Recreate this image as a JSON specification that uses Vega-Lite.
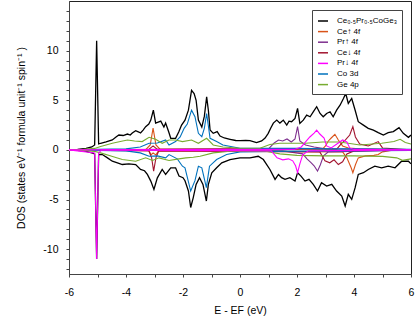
{
  "$schema": "https://vega.github.io/schema/vega-lite/v6.json",
  "width": 342,
  "height": 273,
  "autosize": "none",
  "padding": {"left": 69, "top": 1, "right": 4, "bottom": 50},
  "config": {
    "font": "Liberation Sans",
    "view": {"stroke": "#222", "strokeWidth": 1},
    "axis": {"grid": false, "domainColor": "#444", "tickColor": "#444", "tickSize": 3, "labelColor": "#000", "labelFontSize": 10.5, "titleColor": "#000", "titleFontWeight": "normal", "titleFontSize": 10.5, "labelFont": "Liberation Sans", "titleFont": "Liberation Sans"},
    "legend": {"orient": "top-right", "offset": 9, "strokeColor": "#444", "fillColor": "white", "padding": 5, "labelFontSize": 8, "labelFont": "Liberation Sans", "symbolType": "stroke", "symbolSize": 100, "symbolStrokeWidth": 1.5, "rowPadding": 0.6, "labelOffset": 8, "title": null}
  },
  "datasets": {
    "dos": [
      {"s":"T","p":"u","E":-6,"y":0},{"s":"T","p":"u","E":-5.7,"y":0.05},{"s":"T","p":"u","E":-5.4,"y":0.15},{"s":"T","p":"u","E":-5.2,"y":0.3},{"s":"T","p":"u","E":-5.1,"y":0.5},{"s":"T","p":"u","E":-5.03,"y":11.0},{"s":"T","p":"u","E":-4.96,"y":0.6},{"s":"T","p":"u","E":-4.89,"y":0.67},{"s":"T","p":"u","E":-4.7,"y":0.8},{"s":"T","p":"u","E":-4.48,"y":1.0},{"s":"T","p":"u","E":-4.35,"y":1.3},{"s":"T","p":"u","E":-4.25,"y":1.5},{"s":"T","p":"u","E":-4.1,"y":1.45},{"s":"T","p":"u","E":-3.95,"y":1.6},{"s":"T","p":"u","E":-3.85,"y":1.5},{"s":"T","p":"u","E":-3.78,"y":1.7},{"s":"T","p":"u","E":-3.66,"y":1.94},{"s":"T","p":"u","E":-3.55,"y":1.8},{"s":"T","p":"u","E":-3.49,"y":1.7},{"s":"T","p":"u","E":-3.4,"y":2.0},{"s":"T","p":"u","E":-3.31,"y":2.34},{"s":"T","p":"u","E":-3.2,"y":2.6},{"s":"T","p":"u","E":-3.13,"y":3.0},{"s":"T","p":"u","E":-3.04,"y":4.0},{"s":"T","p":"u","E":-2.96,"y":2.7},{"s":"T","p":"u","E":-2.87,"y":2.8},{"s":"T","p":"u","E":-2.78,"y":2.9},{"s":"T","p":"u","E":-2.67,"y":2.3},{"s":"T","p":"u","E":-2.61,"y":2.7},{"s":"T","p":"u","E":-2.5,"y":1.8},{"s":"T","p":"u","E":-2.43,"y":1.17},{"s":"T","p":"u","E":-2.26,"y":1.17},{"s":"T","p":"u","E":-2.15,"y":1.8},{"s":"T","p":"u","E":-2.05,"y":2.5},{"s":"T","p":"u","E":-1.93,"y":3.0},{"s":"T","p":"u","E":-1.81,"y":4.0},{"s":"T","p":"u","E":-1.7,"y":6.0},{"s":"T","p":"u","E":-1.61,"y":5.67},{"s":"T","p":"u","E":-1.54,"y":5.0},{"s":"T","p":"u","E":-1.46,"y":3.0},{"s":"T","p":"u","E":-1.34,"y":2.3},{"s":"T","p":"u","E":-1.25,"y":3.4},{"s":"T","p":"u","E":-1.17,"y":5.35},{"s":"T","p":"u","E":-1.11,"y":4.0},{"s":"T","p":"u","E":-1.05,"y":2.0},{"s":"T","p":"u","E":-0.94,"y":1.67},{"s":"T","p":"u","E":-0.8,"y":1.84},{"s":"T","p":"u","E":-0.7,"y":1.4},{"s":"T","p":"u","E":-0.55,"y":1.2},{"s":"T","p":"u","E":-0.35,"y":1.07},{"s":"T","p":"u","E":-0.15,"y":0.95},{"s":"T","p":"u","E":0,"y":0.94},{"s":"T","p":"u","E":0.2,"y":0.95},{"s":"T","p":"u","E":0.35,"y":0.94},{"s":"T","p":"u","E":0.58,"y":0.74},{"s":"T","p":"u","E":0.76,"y":0.9},{"s":"T","p":"u","E":0.88,"y":1.2},{"s":"T","p":"u","E":0.99,"y":1.67},{"s":"T","p":"u","E":1.08,"y":2.2},{"s":"T","p":"u","E":1.17,"y":2.7},{"s":"T","p":"u","E":1.29,"y":3.0},{"s":"T","p":"u","E":1.4,"y":2.7},{"s":"T","p":"u","E":1.52,"y":3.0},{"s":"T","p":"u","E":1.64,"y":2.5},{"s":"T","p":"u","E":1.72,"y":2.9},{"s":"T","p":"u","E":1.81,"y":2.84},{"s":"T","p":"u","E":1.93,"y":3.17},{"s":"T","p":"u","E":2.02,"y":4.18},{"s":"T","p":"u","E":2.1,"y":2.67},{"s":"T","p":"u","E":2.22,"y":3.0},{"s":"T","p":"u","E":2.34,"y":3.5},{"s":"T","p":"u","E":2.46,"y":3.34},{"s":"T","p":"u","E":2.57,"y":3.84},{"s":"T","p":"u","E":2.69,"y":4.35},{"s":"T","p":"u","E":2.81,"y":3.67},{"s":"T","p":"u","E":2.92,"y":3.34},{"s":"T","p":"u","E":3.04,"y":3.67},{"s":"T","p":"u","E":3.16,"y":3.84},{"s":"T","p":"u","E":3.27,"y":3.34},{"s":"T","p":"u","E":3.39,"y":4.0},{"s":"T","p":"u","E":3.51,"y":4.5},{"s":"T","p":"u","E":3.63,"y":5.18},{"s":"T","p":"u","E":3.71,"y":5.68},{"s":"T","p":"u","E":3.8,"y":4.68},{"s":"T","p":"u","E":3.92,"y":5.18},{"s":"T","p":"u","E":4.04,"y":4.0},{"s":"T","p":"u","E":4.15,"y":2.84},{"s":"T","p":"u","E":4.33,"y":2.5},{"s":"T","p":"u","E":4.5,"y":2.17},{"s":"T","p":"u","E":4.68,"y":2.0},{"s":"T","p":"u","E":4.85,"y":1.74},{"s":"T","p":"u","E":5.03,"y":1.5},{"s":"T","p":"u","E":5.2,"y":1.74},{"s":"T","p":"u","E":5.38,"y":1.84},{"s":"T","p":"u","E":5.58,"y":2.24},{"s":"T","p":"u","E":5.73,"y":1.67},{"s":"T","p":"u","E":5.91,"y":1.27},{"s":"T","p":"u","E":6,"y":1.5},
      {"s":"T","p":"d","E":-6,"y":0},{"s":"T","p":"d","E":-5.7,"y":-0.05},{"s":"T","p":"d","E":-5.4,"y":-0.15},{"s":"T","p":"d","E":-5.2,"y":-0.3},{"s":"T","p":"d","E":-5.1,"y":-0.4},{"s":"T","p":"d","E":-5.03,"y":-11.0},{"s":"T","p":"d","E":-4.96,"y":-0.45},{"s":"T","p":"d","E":-4.83,"y":-0.47},{"s":"T","p":"d","E":-4.65,"y":-0.8},{"s":"T","p":"d","E":-4.48,"y":-1.14},{"s":"T","p":"d","E":-4.3,"y":-1.3},{"s":"T","p":"d","E":-4.13,"y":-1.47},{"s":"T","p":"d","E":-3.9,"y":-1.4},{"s":"T","p":"d","E":-3.66,"y":-1.47},{"s":"T","p":"d","E":-3.49,"y":-1.97},{"s":"T","p":"d","E":-3.35,"y":-2.1},{"s":"T","p":"d","E":-3.25,"y":-2.47},{"s":"T","p":"d","E":-3.13,"y":-3.14},{"s":"T","p":"d","E":-3.02,"y":-3.98},{"s":"T","p":"d","E":-2.9,"y":-2.81},{"s":"T","p":"d","E":-2.73,"y":-1.97},{"s":"T","p":"d","E":-2.61,"y":-2.47},{"s":"T","p":"d","E":-2.43,"y":-1.8},{"s":"T","p":"d","E":-2.26,"y":-1.8},{"s":"T","p":"d","E":-2.14,"y":-2.64},{"s":"T","p":"d","E":-2.0,"y":-2.8},{"s":"T","p":"d","E":-1.93,"y":-3.1},{"s":"T","p":"d","E":-1.81,"y":-4.14},{"s":"T","p":"d","E":-1.73,"y":-5.8},{"s":"T","p":"d","E":-1.64,"y":-4.8},{"s":"T","p":"d","E":-1.54,"y":-3.47},{"s":"T","p":"d","E":-1.42,"y":-2.8},{"s":"T","p":"d","E":-1.3,"y":-3.47},{"s":"T","p":"d","E":-1.18,"y":-5.15},{"s":"T","p":"d","E":-1.11,"y":-3.47},{"s":"T","p":"d","E":-0.99,"y":-2.3},{"s":"T","p":"d","E":-0.82,"y":-1.8},{"s":"T","p":"d","E":-0.64,"y":-1.3},{"s":"T","p":"d","E":-0.35,"y":-0.97},{"s":"T","p":"d","E":0,"y":-0.8},{"s":"T","p":"d","E":0.35,"y":-0.8},{"s":"T","p":"d","E":0.64,"y":-0.64},{"s":"T","p":"d","E":0.82,"y":-0.97},{"s":"T","p":"d","E":1.05,"y":-1.97},{"s":"T","p":"d","E":1.23,"y":-2.97},{"s":"T","p":"d","E":1.35,"y":-2.47},{"s":"T","p":"d","E":1.46,"y":-2.8},{"s":"T","p":"d","E":1.58,"y":-2.97},{"s":"T","p":"d","E":1.75,"y":-2.8},{"s":"T","p":"d","E":1.93,"y":-3.14},{"s":"T","p":"d","E":2.02,"y":-2.3},{"s":"T","p":"d","E":2.14,"y":-2.64},{"s":"T","p":"d","E":2.28,"y":-3.14},{"s":"T","p":"d","E":2.42,"y":-2.97},{"s":"T","p":"d","E":2.57,"y":-3.47},{"s":"T","p":"d","E":2.72,"y":-4.14},{"s":"T","p":"d","E":2.86,"y":-3.3},{"s":"T","p":"d","E":3.04,"y":-3.64},{"s":"T","p":"d","E":3.22,"y":-3.47},{"s":"T","p":"d","E":3.39,"y":-4.14},{"s":"T","p":"d","E":3.57,"y":-4.65},{"s":"T","p":"d","E":3.69,"y":-5.65},{"s":"T","p":"d","E":3.8,"y":-4.48},{"s":"T","p":"d","E":3.92,"y":-4.98},{"s":"T","p":"d","E":4.04,"y":-3.8},{"s":"T","p":"d","E":4.15,"y":-2.47},{"s":"T","p":"d","E":4.33,"y":-2.3},{"s":"T","p":"d","E":4.5,"y":-1.97},{"s":"T","p":"d","E":4.73,"y":-1.64},{"s":"T","p":"d","E":4.97,"y":-1.8},{"s":"T","p":"d","E":5.2,"y":-1.64},{"s":"T","p":"d","E":5.44,"y":-1.8},{"s":"T","p":"d","E":5.67,"y":-1.14},{"s":"T","p":"d","E":5.91,"y":-1.14},{"s":"T","p":"d","E":6,"y":-1.4},
      {"s":"O","p":"u","E":-6,"y":0},{"s":"O","p":"u","E":-3.3,"y":0.05},{"s":"O","p":"u","E":-3.15,"y":0.5},{"s":"O","p":"u","E":-3.05,"y":2.2},{"s":"O","p":"u","E":-2.95,"y":0.5},{"s":"O","p":"u","E":-2.8,"y":0.05},{"s":"O","p":"u","E":2.9,"y":0.1},{"s":"O","p":"u","E":3.0,"y":0.4},{"s":"O","p":"u","E":3.1,"y":0.9},{"s":"O","p":"u","E":3.2,"y":1.2},{"s":"O","p":"u","E":3.33,"y":1.57},{"s":"O","p":"u","E":3.45,"y":1.0},{"s":"O","p":"u","E":3.6,"y":0.4},{"s":"O","p":"u","E":3.8,"y":0.2},{"s":"O","p":"u","E":4.2,"y":0.1},{"s":"O","p":"u","E":6,"y":0},
      {"s":"O","p":"d","E":-6,"y":0},{"s":"O","p":"d","E":-3.2,"y":-0.05},{"s":"O","p":"d","E":-3.12,"y":-0.5},{"s":"O","p":"d","E":-3.05,"y":-0.3},{"s":"O","p":"d","E":-2.95,"y":-0.5},{"s":"O","p":"d","E":-2.85,"y":-0.05},{"s":"O","p":"d","E":3.6,"y":-0.2},{"s":"O","p":"d","E":3.75,"y":-0.8},{"s":"O","p":"d","E":3.9,"y":-1.8},{"s":"O","p":"d","E":3.96,"y":-2.3},{"s":"O","p":"d","E":4.05,"y":-1.5},{"s":"O","p":"d","E":4.15,"y":-0.8},{"s":"O","p":"d","E":4.4,"y":-0.6},{"s":"O","p":"d","E":4.7,"y":-0.55},{"s":"O","p":"d","E":4.85,"y":-0.47},{"s":"O","p":"d","E":5.0,"y":-0.2},{"s":"O","p":"d","E":5.3,"y":-0.05},{"s":"O","p":"d","E":6,"y":0},
      {"s":"P","p":"u","E":-6,"y":0},{"s":"P","p":"u","E":1.0,"y":0.1},{"s":"P","p":"u","E":1.2,"y":0.7},{"s":"P","p":"u","E":1.35,"y":1.0},{"s":"P","p":"u","E":1.5,"y":0.9},{"s":"P","p":"u","E":1.65,"y":1.1},{"s":"P","p":"u","E":1.8,"y":0.8},{"s":"P","p":"u","E":1.93,"y":1.1},{"s":"P","p":"u","E":2.02,"y":2.34},{"s":"P","p":"u","E":2.1,"y":0.9},{"s":"P","p":"u","E":2.3,"y":0.5},{"s":"P","p":"u","E":2.6,"y":0.3},{"s":"P","p":"u","E":3.0,"y":0.1},{"s":"P","p":"u","E":6,"y":0},
      {"s":"P","p":"d","E":-6,"y":0},{"s":"P","p":"d","E":1.5,"y":-0.1},{"s":"P","p":"d","E":2.2,"y":-0.4},{"s":"P","p":"d","E":2.35,"y":-0.9},{"s":"P","p":"d","E":2.5,"y":-1.3},{"s":"P","p":"d","E":2.6,"y":-1.6},{"s":"P","p":"d","E":2.72,"y":-2.14},{"s":"P","p":"d","E":2.82,"y":-1.5},{"s":"P","p":"d","E":2.93,"y":-0.6},{"s":"P","p":"d","E":3.1,"y":-0.2},{"s":"P","p":"d","E":6,"y":0},
      {"s":"R","p":"u","E":-6,"y":0},{"s":"R","p":"u","E":-3.2,"y":0.05},{"s":"R","p":"u","E":-3.05,"y":0.4},{"s":"R","p":"u","E":-2.9,"y":0.05},{"s":"R","p":"u","E":3.4,"y":0.1},{"s":"R","p":"u","E":3.55,"y":0.6},{"s":"R","p":"u","E":3.7,"y":1.0},{"s":"R","p":"u","E":3.85,"y":1.5},{"s":"R","p":"u","E":3.96,"y":2.34},{"s":"R","p":"u","E":4.05,"y":1.3},{"s":"R","p":"u","E":4.2,"y":0.6},{"s":"R","p":"u","E":4.5,"y":0.4},{"s":"R","p":"u","E":4.85,"y":0.84},{"s":"R","p":"u","E":5.0,"y":0.2},{"s":"R","p":"u","E":6,"y":0},
      {"s":"R","p":"d","E":-6,"y":0},{"s":"R","p":"d","E":-3.2,"y":-0.1},{"s":"R","p":"d","E":-3.1,"y":-0.8},{"s":"R","p":"d","E":-3.03,"y":-2.14},{"s":"R","p":"d","E":-2.95,"y":-0.8},{"s":"R","p":"d","E":-2.85,"y":-0.1},{"s":"R","p":"d","E":2.8,"y":-0.2},{"s":"R","p":"d","E":2.98,"y":-1.1},{"s":"R","p":"d","E":3.15,"y":-1.3},{"s":"R","p":"d","E":3.3,"y":-1.0},{"s":"R","p":"d","E":3.45,"y":-1.47},{"s":"R","p":"d","E":3.6,"y":-1.2},{"s":"R","p":"d","E":3.75,"y":-0.4},{"s":"R","p":"d","E":4.0,"y":-0.1},{"s":"R","p":"d","E":6,"y":0},
      {"s":"C","p":"u","E":-6,"y":0},{"s":"C","p":"u","E":-4,"y":0.1},{"s":"C","p":"u","E":-3.5,"y":0.3},{"s":"C","p":"u","E":-3.19,"y":0.67},{"s":"C","p":"u","E":-2.9,"y":0.7},{"s":"C","p":"u","E":-2.61,"y":1.0},{"s":"C","p":"u","E":-2.49,"y":0.5},{"s":"C","p":"u","E":-2.26,"y":0.84},{"s":"C","p":"u","E":-2.1,"y":1.3},{"s":"C","p":"u","E":-1.96,"y":2.17},{"s":"C","p":"u","E":-1.85,"y":2.6},{"s":"C","p":"u","E":-1.7,"y":4.0},{"s":"C","p":"u","E":-1.58,"y":3.34},{"s":"C","p":"u","E":-1.46,"y":1.67},{"s":"C","p":"u","E":-1.34,"y":1.34},{"s":"C","p":"u","E":-1.25,"y":2.2},{"s":"C","p":"u","E":-1.17,"y":3.67},{"s":"C","p":"u","E":-1.05,"y":1.17},{"s":"C","p":"u","E":-0.82,"y":0.84},{"s":"C","p":"u","E":-0.6,"y":0.5},{"s":"C","p":"u","E":0,"y":0.17},{"s":"C","p":"u","E":1,"y":0.15},{"s":"C","p":"u","E":2,"y":0.15},{"s":"C","p":"u","E":3,"y":0.1},{"s":"C","p":"u","E":4,"y":0.1},{"s":"C","p":"u","E":6,"y":0.05},
      {"s":"C","p":"d","E":-6,"y":0},{"s":"C","p":"d","E":-4,"y":-0.1},{"s":"C","p":"d","E":-3.5,"y":-0.3},{"s":"C","p":"d","E":-3.19,"y":-0.64},{"s":"C","p":"d","E":-2.9,"y":-0.6},{"s":"C","p":"d","E":-2.61,"y":-0.8},{"s":"C","p":"d","E":-2.49,"y":-0.47},{"s":"C","p":"d","E":-2.2,"y":-0.9},{"s":"C","p":"d","E":-2.02,"y":-1.64},{"s":"C","p":"d","E":-1.93,"y":-1.8},{"s":"C","p":"d","E":-1.73,"y":-4.14},{"s":"C","p":"d","E":-1.58,"y":-3.1},{"s":"C","p":"d","E":-1.46,"y":-1.64},{"s":"C","p":"d","E":-1.34,"y":-1.8},{"s":"C","p":"d","E":-1.18,"y":-3.8},{"s":"C","p":"d","E":-1.07,"y":-1.64},{"s":"C","p":"d","E":-0.82,"y":-0.97},{"s":"C","p":"d","E":-0.47,"y":-0.47},{"s":"C","p":"d","E":0,"y":-0.2},{"s":"C","p":"d","E":1,"y":-0.15},{"s":"C","p":"d","E":6,"y":-0.05},
      {"s":"G","p":"u","E":-6,"y":0},{"s":"G","p":"u","E":-5.5,"y":0.05},{"s":"G","p":"u","E":-5.1,"y":0.15},{"s":"G","p":"u","E":-4.89,"y":0.34},{"s":"G","p":"u","E":-4.48,"y":0.67},{"s":"G","p":"u","E":-4.2,"y":0.85},{"s":"G","p":"u","E":-3.95,"y":1.0},{"s":"G","p":"u","E":-3.7,"y":0.9},{"s":"G","p":"u","E":-3.43,"y":0.84},{"s":"G","p":"u","E":-3.19,"y":1.27},{"s":"G","p":"u","E":-2.96,"y":1.07},{"s":"G","p":"u","E":-2.73,"y":0.67},{"s":"G","p":"u","E":-2.49,"y":1.0},{"s":"G","p":"u","E":-2.26,"y":1.0},{"s":"G","p":"u","E":-2.02,"y":0.84},{"s":"G","p":"u","E":-1.7,"y":1.0},{"s":"G","p":"u","E":-1.46,"y":0.67},{"s":"G","p":"u","E":-1.17,"y":1.17},{"s":"G","p":"u","E":-0.94,"y":0.5},{"s":"G","p":"u","E":-0.6,"y":0.3},{"s":"G","p":"u","E":-0.35,"y":0.24},{"s":"G","p":"u","E":0,"y":0.17},{"s":"G","p":"u","E":0.7,"y":0.17},{"s":"G","p":"u","E":1.05,"y":0.54},{"s":"G","p":"u","E":1.4,"y":0.67},{"s":"G","p":"u","E":1.87,"y":0.67},{"s":"G","p":"u","E":2.3,"y":0.67},{"s":"G","p":"u","E":2.9,"y":0.8},{"s":"G","p":"u","E":3.5,"y":0.8},{"s":"G","p":"u","E":4.21,"y":0.5},{"s":"G","p":"u","E":4.97,"y":0.67},{"s":"G","p":"u","E":5.4,"y":0.85},{"s":"G","p":"u","E":5.62,"y":1.07},{"s":"G","p":"u","E":5.8,"y":0.75},{"s":"G","p":"u","E":6,"y":0.6},
      {"s":"G","p":"d","E":-6,"y":0},{"s":"G","p":"d","E":-5.5,"y":-0.05},{"s":"G","p":"d","E":-5.1,"y":-0.15},{"s":"G","p":"d","E":-4.89,"y":-0.3},{"s":"G","p":"d","E":-4.5,"y":-0.64},{"s":"G","p":"d","E":-4.13,"y":-0.97},{"s":"G","p":"d","E":-3.66,"y":-1.14},{"s":"G","p":"d","E":-3.31,"y":-0.8},{"s":"G","p":"d","E":-3.07,"y":-1.07},{"s":"G","p":"d","E":-2.84,"y":-0.8},{"s":"G","p":"d","E":-2.49,"y":-1.07},{"s":"G","p":"d","E":-2.14,"y":-0.9},{"s":"G","p":"d","E":-1.9,"y":-0.8},{"s":"G","p":"d","E":-1.64,"y":-0.74},{"s":"G","p":"d","E":-1.4,"y":-0.64},{"s":"G","p":"d","E":-0.94,"y":-0.3},{"s":"G","p":"d","E":-0.35,"y":-0.14},{"s":"G","p":"d","E":0.9,"y":-0.14},{"s":"G","p":"d","E":1.4,"y":-0.4},{"s":"G","p":"d","E":2.0,"y":-0.55},{"s":"G","p":"d","E":3.0,"y":-0.6},{"s":"G","p":"d","E":4.0,"y":-0.6},{"s":"G","p":"d","E":5.0,"y":-0.65},{"s":"G","p":"d","E":5.5,"y":-0.8},{"s":"G","p":"d","E":5.7,"y":-1.05},{"s":"G","p":"d","E":6,"y":-0.9},
      {"s":"M","p":"u","E":-6,"y":0},{"s":"M","p":"u","E":1.9,"y":0.05},{"s":"M","p":"u","E":2.15,"y":0.3},{"s":"M","p":"u","E":2.3,"y":0.8},{"s":"M","p":"u","E":2.45,"y":1.3},{"s":"M","p":"u","E":2.6,"y":1.7},{"s":"M","p":"u","E":2.69,"y":2.0},{"s":"M","p":"u","E":2.8,"y":1.6},{"s":"M","p":"u","E":2.95,"y":1.2},{"s":"M","p":"u","E":3.04,"y":0.4},{"s":"M","p":"u","E":3.2,"y":0.2},{"s":"M","p":"u","E":3.45,"y":0.7},{"s":"M","p":"u","E":3.6,"y":1.0},{"s":"M","p":"u","E":3.75,"y":0.8},{"s":"M","p":"u","E":3.85,"y":0.2},{"s":"M","p":"u","E":4.0,"y":0.05},{"s":"M","p":"u","E":6,"y":0},
      {"s":"M","p":"d","E":-6,"y":0},{"s":"M","p":"d","E":-5.1,"y":-0.3},{"s":"M","p":"d","E":-5.03,"y":-11.0},{"s":"M","p":"d","E":-4.96,"y":-0.3},{"s":"M","p":"d","E":-4.85,"y":0},{"s":"M","p":"d","E":1.1,"y":-0.1},{"s":"M","p":"d","E":1.3,"y":-0.8},{"s":"M","p":"d","E":1.5,"y":-1.0},{"s":"M","p":"d","E":1.7,"y":-0.9},{"s":"M","p":"d","E":1.85,"y":-1.1},{"s":"M","p":"d","E":1.95,"y":-1.6},{"s":"M","p":"d","E":2.02,"y":-2.3},{"s":"M","p":"d","E":2.1,"y":-1.4},{"s":"M","p":"d","E":2.2,"y":-0.5},{"s":"M","p":"d","E":2.4,"y":-0.1},{"s":"M","p":"d","E":6,"y":0}
    ]
  },
  "encoding": {
    "x": {"field": "E", "type": "quantitative", "scale": {"domain": [-6, 6], "nice": false},
      "axis": {"title": "E - EF (eV)", "values": [-6,-5,-4,-3,-2,-1,0,1,2,3,4,5,6], "labelExpr": "datum.value % 2 == 0 ? '' + datum.value : ''", "labelPadding": 10, "titlePadding": 8, "labelFlush": false}},
    "y": {"field": "y", "type": "quantitative", "scale": {"domain": [-12.5, 15], "nice": false, "zero": false},
      "axis": {"title": "DOS (states eV⁻¹ formula unit⁻¹ spin⁻¹ )", "values": [-12,-11,-10,-9,-8,-7,-6,-5,-4,-3,-2,-1,0,1,2,3,4,5,6,7,8,9,10,11,12,13,14], "labelExpr": "datum.value % 5 == 0 ? '' + datum.value : ''", "labelPadding": 8, "titlePadding": 16}},
    "color": {"field": "s", "type": "nominal",
      "scale": {"domain": ["T","O","P","R","M","C","G"], "range": ["#000000","#D95319","#7E2F8E","#A2142F","#FF00FF","#0072BD","#77AC30"]},
      "legend": {"labelExpr": "{'T':'Ce₀.₅Pr₀.₅CoGe₃','O':'Ce↑ 4f','P':'Pr↑ 4f','R':'Ce↓ 4f','M':'Pr↓ 4f','C':'Co 3d','G':'Ge 4p'}[datum.value]"}},
    "detail": {"field": "p", "type": "nominal"}
  },
  "layer": [
    {"data": {"name": "dos"}, "transform": [{"filter": "datum.s == 'T'"}], "mark": {"type": "line", "strokeWidth": 1.3, "clip": true}},
    {"data": {"name": "dos"}, "transform": [{"filter": "datum.s != 'T'"}], "mark": {"type": "line", "strokeWidth": 1.1, "clip": true}},
    {"data": {"values": [{}]}, "mark": {"type": "rule", "color": "#000", "strokeDash": [4, 3], "strokeWidth": 1}, "encoding": {"x": {"datum": 0}, "y": null, "color": null, "detail": null}}
  ]
}
